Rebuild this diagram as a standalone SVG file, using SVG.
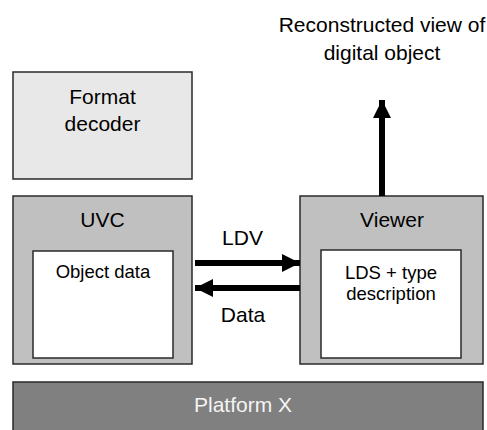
<svg xmlns="http://www.w3.org/2000/svg" width="487" height="430" viewBox="0 0 487 430">
  <style>
    .box { stroke: #2a2a2a; stroke-width: 1.5; }
    .light { fill: #e8e8e8; }
    .mid { fill: #c0c0c0; }
    .inner { fill: #ffffff; }
    .dark { fill: #808080; }
    text { font-family: "Liberation Sans", Arial, sans-serif; fill: #000000; text-anchor: middle; }
    .lbl { font-size: 21px; }
    .sm { font-size: 18.5px; }
    .flow { stroke: #000000; stroke-width: 6; fill: none; }
  </style>
  <defs>
    <marker id="head" markerUnits="userSpaceOnUse" markerWidth="18" markerHeight="18" refX="18" refY="9" orient="auto">
      <path d="M0,0 L18,9 L0,18 Z" fill="#000000"/>
    </marker>
  </defs>

  <text class="lbl" x="382" y="32">Reconstructed view of</text>
  <text class="lbl" x="382" y="60">digital object</text>

  <g id="format-decoder">
    <rect class="box light" x="13" y="72" width="179" height="107"/>
    <text class="lbl" x="102.5" y="104">Format</text>
    <text class="lbl" x="102.5" y="131">decoder</text>
  </g>

  <g id="uvc">
    <rect class="box mid" x="13" y="196" width="179" height="168"/>
    <text class="lbl" x="102.5" y="227">UVC</text>
    <rect class="box inner" x="33" y="251" width="140" height="107"/>
    <text class="sm" x="103" y="278">Object data</text>
  </g>

  <g id="viewer">
    <rect class="box mid" x="300" y="196" width="183" height="168"/>
    <text class="lbl" x="392" y="227">Viewer</text>
    <rect class="box inner" x="321" y="250" width="140" height="108"/>
    <text class="sm" x="391" y="279">LDS + type</text>
    <text class="sm" x="391" y="300">description</text>
  </g>

  <g id="platform">
    <rect class="box dark" x="13" y="382" width="470" height="60"/>
    <text class="lbl" x="243" y="412" style="fill:#f4f4f4">Platform X</text>
  </g>

  <g id="connectors">
    <line class="flow" x1="195" y1="263" x2="300" y2="263" marker-end="url(#head)"/>
    <line class="flow" x1="300" y1="288" x2="195" y2="288" marker-end="url(#head)"/>
    <line class="flow" x1="382" y1="196" x2="382" y2="100" marker-end="url(#head)"/>
    <text class="lbl" x="242.5" y="245">LDV</text>
    <text class="lbl" x="243" y="322">Data</text>
  </g>
</svg>
